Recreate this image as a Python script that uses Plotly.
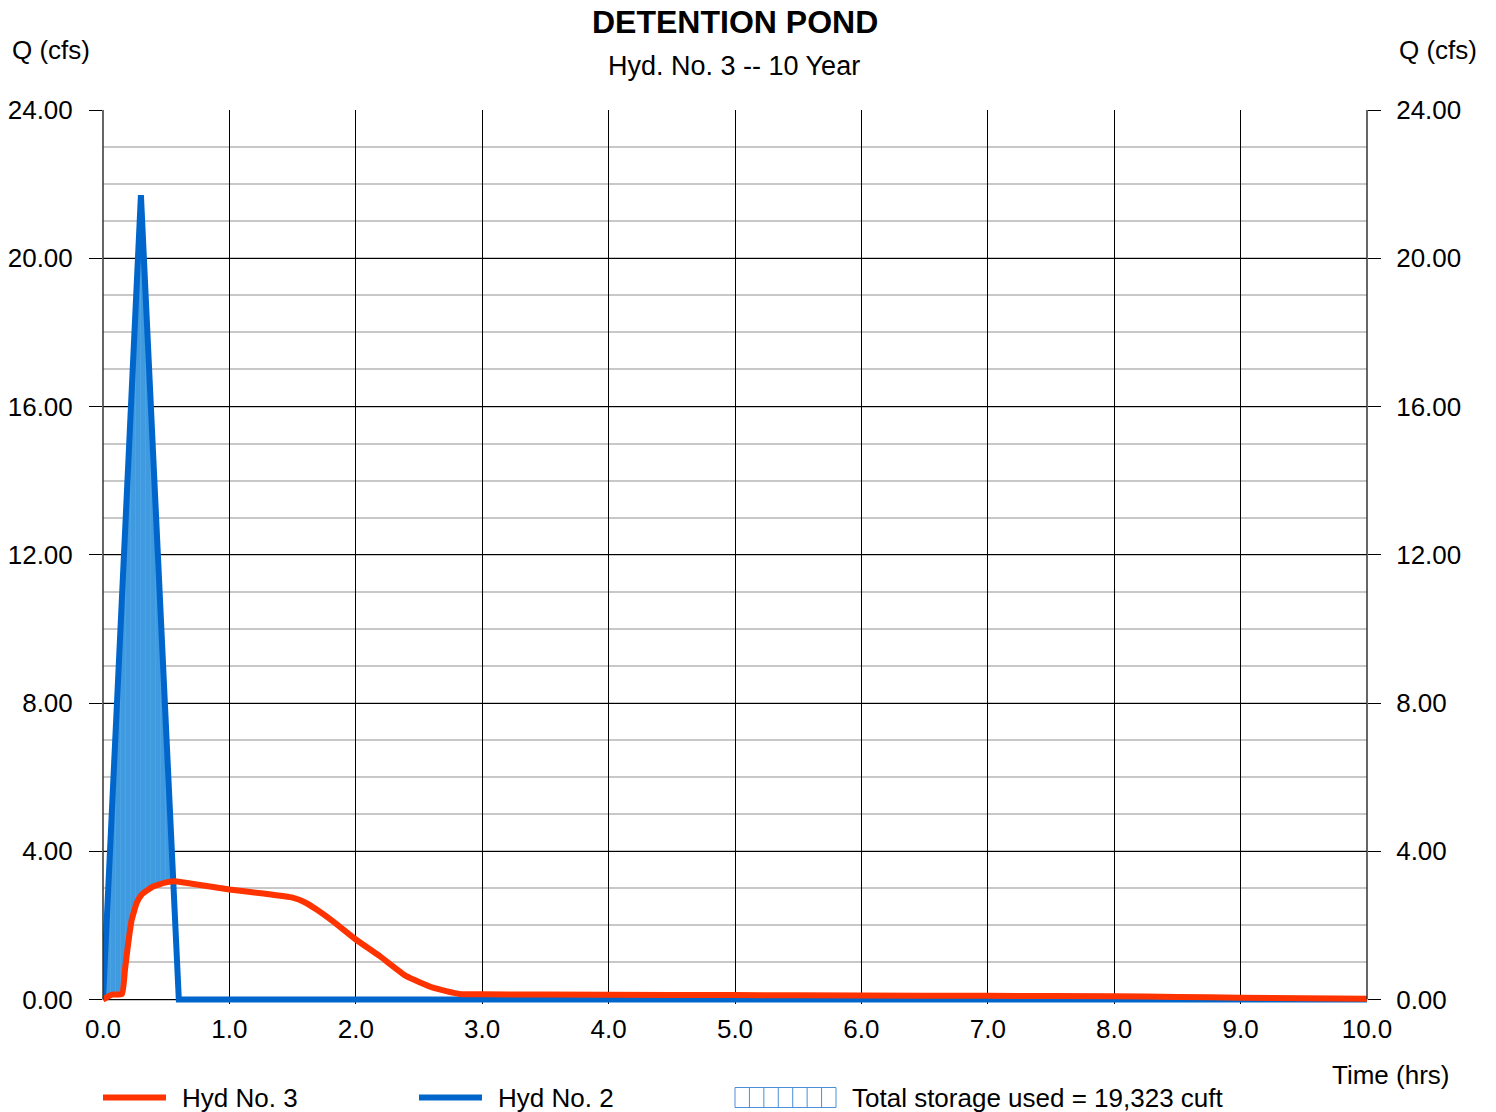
import numpy as np
import plotly.graph_objects as go

# ---- data ----
inflow_time = [0.0, 0.30, 0.60, 10.0]          # Hyd No. 2 (hrs)
inflow_q = [0.0, 21.7, 0.0, 0.0]               # cfs

outflow_time = [0.0, 0.07, 0.15, 0.174, 0.20, 0.227, 0.266, 0.305, 0.396, 0.50, 0.57,
                0.69, 1.0, 1.27, 1.5, 1.6, 1.69, 1.82, 2.0, 2.19, 2.4, 2.61, 2.82,
                3.0, 4.0, 5.0, 6.0, 7.0, 8.0, 8.5, 9.0, 10.0]
outflow_q = [0.0, 0.13, 0.15, 0.81, 1.53, 2.15, 2.60, 2.83, 3.05, 3.16, 3.19,
             3.13, 2.97, 2.86, 2.75, 2.62, 2.43, 2.11, 1.62, 1.17, 0.63, 0.32, 0.15,
             0.14, 0.13, 0.12, 0.11, 0.10, 0.09, 0.07, 0.05, 0.02]

x_ticks = [0, 1, 2, 3, 4, 5, 6, 7, 8, 9, 10]
y_ticks = [0, 4, 8, 12, 16, 20, 24]

title = "DETENTION POND"
subtitle = "Hyd. No. 3 -- 10 Year"
storage_label = "Total storage used = 19,323 cuft"

RED = "#ff3300"
BLUE = "#0066cc"
FONT = "Liberation Sans, Arial, sans-serif"

# storage fill region: between inflow (upper) and outflow where inflow > outflow
grid = np.linspace(0, 0.6, 301)
b = np.interp(grid, inflow_time, inflow_q)
r = np.interp(grid, outflow_time, outflow_q)
upper = np.maximum(b, r)

fig = go.Figure()
fig.add_trace(go.Scatter(x=grid, y=r, mode="lines", line=dict(width=0, color="rgba(0,0,0,0)"),
                         showlegend=False, hoverinfo="skip"))
fig.add_trace(go.Scatter(x=grid, y=upper, mode="lines", line=dict(width=0, color="rgba(0,0,0,0)"),
                         fill="tonexty", fillcolor="#3f9ae0",
                         fillpattern=dict(shape="|", fgcolor="#58abe8", bgcolor="#3f9ae0",
                                          size=5, solidity=0.2),
                         showlegend=False, hoverinfo="skip"))
fig.add_trace(go.Scatter(x=inflow_time, y=inflow_q, mode="lines", name="Hyd No. 2",
                         line=dict(color=BLUE, width=6, shape="linear"), showlegend=False))
fig.add_trace(go.Scatter(x=outflow_time, y=outflow_q, mode="lines", name="Hyd No. 3",
                         line=dict(color=RED, width=6, shape="spline", smoothing=0.4),
                         showlegend=False))
# invisible trace for right axis
fig.add_trace(go.Scatter(x=[0], y=[0], yaxis="y2", mode="markers",
                         marker=dict(opacity=0), showlegend=False, hoverinfo="skip"))

W, H = 1496, 1112
OX, OY = 8, 8          # page offset of the figure in the browser
L, R, T = 103 - OX, 1367 - OX, 110 - OY
Y0 = 1000 - OY
ppu = (Y0 - T) / 24.0
ymin = -0.12
bottom_px = Y0 + (-ymin) * ppu

tickfont = dict(family=FONT, size=26, color="black")

fig.update_layout(
    width=W, height=H,
    margin=dict(l=L, r=W - R, t=T, b=H - bottom_px, pad=0, autoexpand=False),
    paper_bgcolor="white", plot_bgcolor="white",
    font=dict(family=FONT, size=26, color="black"),
    xaxis=dict(range=[0, 10], tickvals=x_ticks, ticktext=[f"{v:.1f}" for v in x_ticks],
               showgrid=True, gridcolor="black", gridwidth=1, zeroline=False,
               ticks="", tickfont=tickfont, ticklabelstandoff=7, showline=False,
               automargin=False),
    yaxis=dict(range=[ymin, 24], tickvals=y_ticks, ticktext=[f"{v:.2f}" for v in y_ticks],
               showgrid=True, gridcolor="black", gridwidth=1, zeroline=False,
               minor=dict(dtick=1, tick0=0, showgrid=True, gridcolor="#c8c8c8", gridwidth=2),
               ticks="outside", ticklen=13, tickcolor="black", tickwidth=1,
               tickfont=tickfont, ticklabelstandoff=11, showline=False, automargin=False),
    yaxis2=dict(range=[ymin, 24], overlaying="y", side="right", tickvals=y_ticks,
                ticktext=[f"{v:.2f}" for v in y_ticks], showgrid=False, zeroline=False,
                ticks="outside", ticklen=13, tickcolor="black", tickwidth=1,
                tickfont=tickfont, ticklabelstandoff=10, showline=False, automargin=False),
)

def px_x(px):
    return (px - OX - L) / (R - L)

def px_y(py):
    return (bottom_px - (py - OY)) / (bottom_px - T)

ann = [
    dict(text=f"<b>{title}</b>", x=px_x(735), y=px_y(22), xanchor="center", yanchor="middle",
         font=dict(size=32)),
    dict(text=subtitle, x=px_x(734), y=px_y(66), xanchor="center", yanchor="middle",
         font=dict(size=27)),
    dict(text="Q (cfs)", x=px_x(10), y=px_y(50), xanchor="left", yanchor="middle"),
    dict(text="Q (cfs)", x=px_x(1397), y=px_y(50), xanchor="left", yanchor="middle"),
    dict(text="Time (hrs)", x=px_x(1330), y=px_y(1075), xanchor="left", yanchor="middle"),
    dict(text="Hyd No. 3", x=px_x(180), y=px_y(1098), xanchor="left", yanchor="middle"),
    dict(text="Hyd No. 2", x=px_x(496), y=px_y(1098), xanchor="left", yanchor="middle"),
    dict(text=storage_label, x=px_x(850), y=px_y(1098), xanchor="left", yanchor="middle"),
]
for a in ann:
    a.update(xref="paper", yref="paper", showarrow=False)
fig.update_layout(annotations=ann)

shapes = [
    dict(type="line", x0=px_x(103), x1=px_x(166), y0=px_y(1098), y1=px_y(1098),
         line=dict(color=RED, width=6)),
    dict(type="line", x0=px_x(419), x1=px_x(482), y0=px_y(1098), y1=px_y(1098),
         line=dict(color=BLUE, width=6)),
    dict(type="rect", x0=px_x(735), x1=px_x(836), y0=px_y(1088), y1=px_y(1108),
         line=dict(color="#4a90d9", width=1), fillcolor="white"),
    # axis side lines
    dict(type="line", x0=0, x1=0, y0=px_y(1000), y1=1, line=dict(color="#333", width=1.5)),
    dict(type="line", x0=1, x1=1, y0=px_y(1000), y1=1, line=dict(color="#333", width=1.5)),
]
for i in range(1, 7):
    xp = 735 + i * (101 / 7)
    shapes.append(dict(type="line", x0=px_x(xp), x1=px_x(xp), y0=px_y(1088), y1=px_y(1108),
                       line=dict(color="#4a90d9", width=1)))
for s in shapes:
    s.update(xref="paper", yref="paper")
fig.update_layout(shapes=shapes)

fig.write_html("out.html")
